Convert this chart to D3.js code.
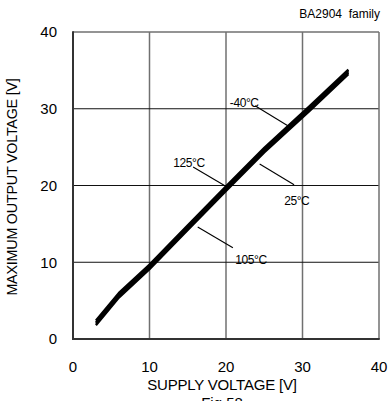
<!DOCTYPE html>
<html>
<head>
<meta charset="utf-8">
<script src="https://cdn.jsdelivr.net/npm/d3@7"></script>
<style>
  html, body { margin: 0; padding: 0; background: #fff; }
  svg { display: block; }
  text { font-family: "Liberation Sans", Arial, sans-serif; fill: #000; }
</style>
</head>
<body>
<svg id="chart" width="388" height="401"></svg>
<script>
// ---- data ----
const supplyVoltage = [3, 6, 10, 15, 20, 25, 31, 36];
const outM40  = [2.4, 6.0, 9.7, 14.8, 19.9, 24.9, 30.4, 35.1];
const out25   = [2.2, 5.8, 9.5, 14.6, 19.7, 24.7, 30.2, 34.9];
const out105  = [2.0, 5.6, 9.3, 14.4, 19.5, 24.5, 30.0, 34.7];
const out125  = [1.8, 5.4, 9.1, 14.2, 19.3, 24.3, 29.8, 34.5];
const seriesNames = ["-40°C", "25°C", "105°C", "125°C"];
const xTicks = [0, 10, 20, 30, 40];
const yTicks = [0, 10, 20, 30, 40];
// annotation: label, text anchor (data), leader from/to (data)
const annLabels = ["-40°C", "125°C", "25°C", "105°C"];
const annText   = [[20.5, 30.2], [13.1, 22.4], [27.6, 17.5], [21.2, 9.8]];
const annFrom   = [[23.8, 30.4], [15.7, 22.4], [24.4, 22.8], [16.3, 14.6]];
const annTo     = [[28.4, 27.6], [20.3, 19.7], [28.9, 20.1], [20.9, 11.9]];

const svg = d3.select("#chart");
const x = d3.scaleLinear().domain([0, 40]).range([73, 379]);
const y = d3.scaleLinear().domain([0, 40]).range([339, 32]);

// vertical grid
svg.append("g").selectAll("line").data(xTicks.slice(1, -1)).join("line")
  .attr("x1", d => x(d)).attr("x2", d => x(d))
  .attr("y1", y(40)).attr("y2", y(0))
  .attr("stroke", "#707070").attr("stroke-width", 1.5);
// horizontal grid
svg.append("g").selectAll("line").data(yTicks.slice(1, -1)).join("line")
  .attr("x1", x(0)).attr("x2", x(40))
  .attr("y1", d => y(d)).attr("y2", d => y(d))
  .attr("stroke", "#111").attr("stroke-width", 1);
// frame
svg.append("line").attr("x1", x(0)).attr("x2", x(40)).attr("y1", y(40)).attr("y2", y(40))
  .attr("stroke", "#707070").attr("stroke-width", 1.5);
svg.append("line").attr("x1", x(40)).attr("x2", x(40)).attr("y1", y(40)).attr("y2", y(0))
  .attr("stroke", "#707070").attr("stroke-width", 1.5);
svg.append("line").attr("x1", x(0)).attr("x2", x(0)).attr("y1", y(40) - 0.75).attr("y2", y(0) + 1)
  .attr("stroke", "#333").attr("stroke-width", 2);
svg.append("line").attr("x1", x(0) - 1).attr("x2", x(40) + 0.75).attr("y1", y(0)).attr("y2", y(0))
  .attr("stroke", "#333").attr("stroke-width", 2);

// tick labels
svg.append("g").selectAll("text").data(xTicks).join("text")
  .attr("x", d => x(d)).attr("y", 372)
  .attr("text-anchor", "middle").attr("font-size", 15)
  .text(d => d);
svg.append("g").selectAll("text").data(yTicks).join("text")
  .attr("x", 57).attr("y", d => y(d)).attr("dy", "0.36em")
  .attr("text-anchor", "end").attr("font-size", 15)
  .text(d => d);

// axis titles
svg.append("text").attr("x", 222).attr("y", 389.5)
  .attr("text-anchor", "middle").attr("font-size", 15).attr("letter-spacing", -0.2)
  .text("SUPPLY VOLTAGE [V]");
svg.append("text").attr("transform", "translate(17,187) rotate(-90)")
  .attr("text-anchor", "middle").attr("font-size", 14.3).attr("letter-spacing", -0.2)
  .text("MAXIMUM OUTPUT VOLTAGE [V]");
svg.append("text").attr("x", 222).attr("y", 408)
  .attr("text-anchor", "middle").attr("font-size", 15)
  .text("Fig.58");
svg.append("text").attr("x", 380).attr("y", 18)
  .attr("text-anchor", "end").attr("font-size", 12)
  .attr("xml:space", "preserve")
  .text("BA2904  family");

// data lines
const allSeries = [outM40, out25, out105, out125];
const line = d3.line().x((d, i) => x(supplyVoltage[i])).y(d => y(d));
svg.append("g").selectAll("path").data(allSeries).join("path")
  .attr("d", d => line(d))
  .attr("fill", "none").attr("stroke", "#000")
  .attr("stroke-width", 2.3).attr("stroke-linejoin", "round");

// annotations
const ann = svg.append("g");
annLabels.forEach((lab, i) => {
  ann.append("line")
    .attr("x1", x(annFrom[i][0])).attr("y1", y(annFrom[i][1]))
    .attr("x2", x(annTo[i][0])).attr("y2", y(annTo[i][1]))
    .attr("stroke", "#000").attr("stroke-width", 1.1);
  ann.append("text").attr("x", x(annText[i][0])).attr("y", y(annText[i][1]))
    .attr("font-size", 12).attr("letter-spacing", -0.4)
    .text(lab);
});
</script>
</body>
</html>
